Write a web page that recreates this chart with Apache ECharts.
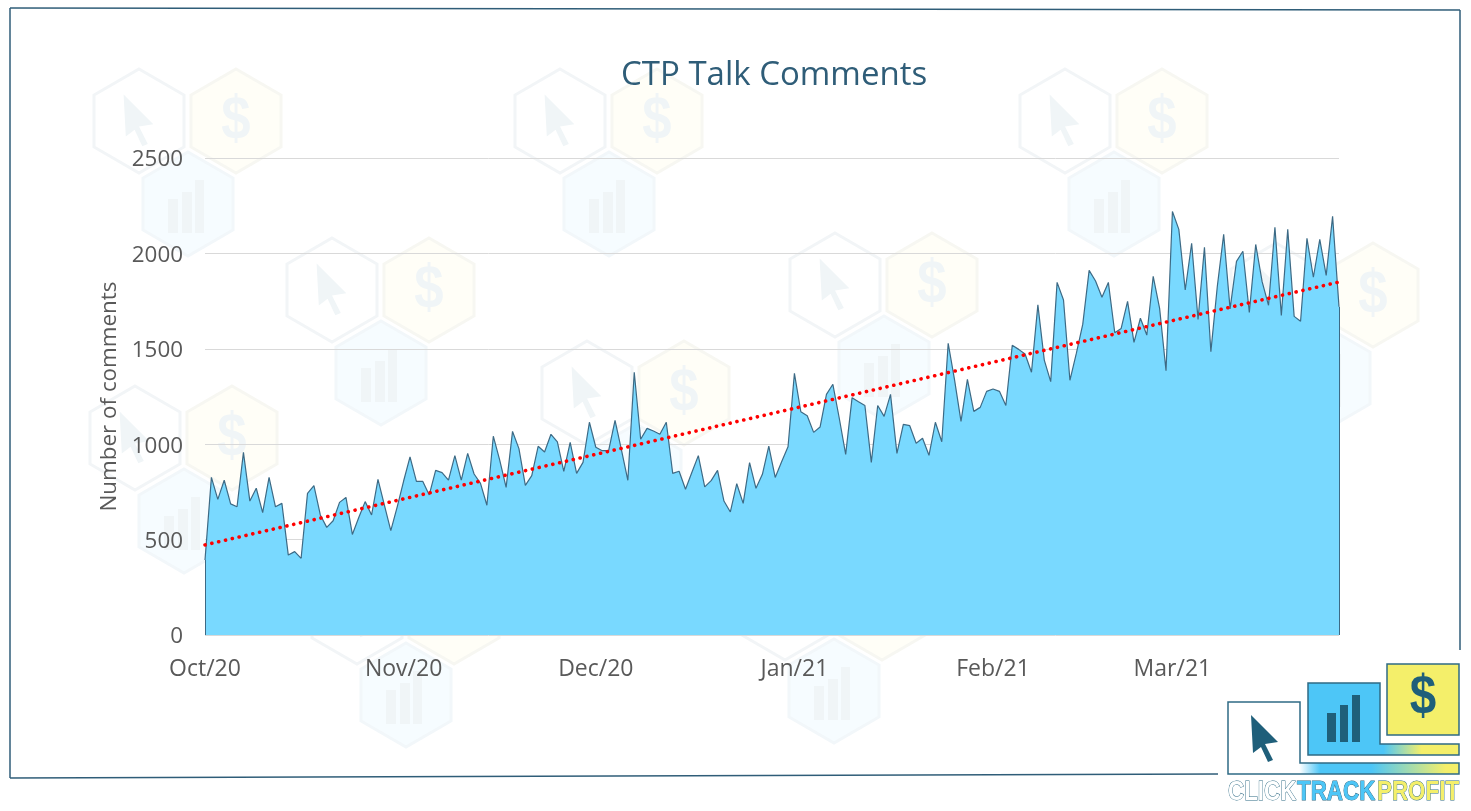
<!DOCTYPE html>
<html>
<head>
<meta charset="utf-8">
<style>
  html, body { margin: 0; padding: 0; background: #fff; }
  #chart { width: 1471px; height: 811px; }
</style>
<script src="https://cdn.jsdelivr.net/npm/echarts@6/dist/echarts.min.js"></script>
</head>
<body>
<div id="chart"></div>
<script>
// daily comments, 1 Oct 2020 to 27 Mar 2021
const comments = [
  393, 826, 711, 811, 687, 672, 957, 702, 769, 641, 826, 672, 690, 419, 437, 402, 742, 783, 629, 564,
  599, 695, 721, 527, 616, 699, 629, 816, 681, 547, 672, 807, 934, 805, 805, 734, 863, 851, 812, 940,
  812, 952, 844, 795, 680, 1042, 917, 774, 1067, 977, 784, 835, 989, 959, 1052, 1012, 858, 1010, 847, 905,
  1115, 984, 966, 966, 1125, 970, 811, 1377, 1026, 1083, 1069, 1052, 1115, 847, 858, 764, 853, 940, 776, 809,
  863, 702, 645, 793, 690, 903, 769, 842, 990, 826, 908, 987, 1371, 1170, 1149, 1062, 1090, 1261, 1314, 1136,
  947, 1244, 1223, 1203, 905, 1203, 1146, 1261, 952, 1104, 1097, 1005, 1031, 942, 1115, 1013, 1529, 1336, 1120, 1340,
  1172, 1193, 1277, 1289, 1277, 1203, 1518, 1497, 1473, 1377, 1730, 1441, 1328, 1848, 1756, 1335, 1476, 1628, 1911, 1855,
  1770, 1848, 1584, 1607, 1749, 1534, 1660, 1572, 1880, 1712, 1385, 2220, 2126, 1808, 2053, 1654, 2032, 1485, 1825, 2100,
  1709, 1958, 2011, 1691, 2047, 1852, 1728, 2137, 1675, 2126, 1670, 1644, 2079, 1875, 2074, 1885, 2194, 1720
];
const trendEnds = [472, 1850];
const monthNames = { '2020-10': 'Oct/20', '2020-11': 'Nov/20', '2020-12': 'Dec/20', '2021-01': 'Jan/21', '2021-02': 'Feb/21', '2021-03': 'Mar/21' };

const days = comments.map((v, i) => new Date(Date.UTC(2020, 9, 1 + i)).toISOString().slice(0, 10));
const lastDay = days[days.length - 1];

const inkDark = '#2f5d78';
const mark = '#1f5f7a';
const pale = '#f0f5f7';

// arrow shape used by the logo and the background pattern, around 0,0
const arrowPts = [[-14, -24], [13, 3], [0, 5], [8, 21], [3, 23], [-4, 8], [-12, 14]];

function hexPoints(cx, cy) {
  return [[cx, cy - 52], [cx + 45, cy - 26], [cx + 45, cy + 26], [cx, cy + 52], [cx - 45, cy + 26], [cx - 45, cy - 26]];
}

function poly(points, style) {
  return { type: 'polygon', z: -5, silent: true, shape: { points: points }, style: style };
}

function rect(x, y, w, h, style) {
  return { type: 'rect', z: -5, silent: true, shape: { x: x, y: y, width: w, height: h }, style: style };
}

function dollar(x, y, size, fill, z) {
  return {
    type: 'text', z: z, silent: true, x: x, y: y, scaleX: 0.85,
    style: { text: '$', x: 0, y: 0, fill: fill, font: 'bold ' + size + 'px "Liberation Sans"', align: 'center', verticalAlign: 'middle' }
  };
}

// one cluster of the three faint hexagons, x,y = centre of the arrow hexagon
function watermark(x, y) {
  const out = [];
  out.push(poly(hexPoints(x, y), { fill: '#fff', stroke: '#f2f5f7', lineWidth: 3 }));
  out.push(poly(arrowPts.map(p => [x + p[0] * 1.1, y + p[1] * 1.1]), { fill: pale }));
  out.push(poly(hexPoints(x + 97, y), { fill: '#fffef7', stroke: '#f7f7f2', lineWidth: 3 }));
  out.push(dollar(x + 97, y, 62, pale, -5));
  out.push(poly(hexPoints(x + 49, y + 83), { fill: '#f6fcff', stroke: '#f2f7fa', lineWidth: 3 }));
  out.push(rect(x + 29, y + 78, 10, 34, { fill: pale }));
  out.push(rect(x + 43, y + 71, 10, 41, { fill: pale }));
  out.push(rect(x + 56, y + 59, 9, 53, { fill: pale }));
  return out;
}

function frame() {
  const line = { stroke: inkDark, lineWidth: 1.5 };
  return [[[10, 8], [1460, 10]], [[10, 8], [10, 778]], [[10, 778], [1218, 774]], [[1460, 10], [1460, 650]]].map(p => ({
    type: 'line', z: -4, silent: true, shape: { x1: p[0][0], y1: p[0][1], x2: p[1][0], y2: p[1][1] }, style: line
  }));
}

function logoText(text, x, fill) {
  return {
    type: 'text', z: 5, silent: true, x: x, y: 792, scaleX: 0.8,
    style: { text: text, x: 0, y: 0, fill: fill, stroke: '#2f6b85', lineWidth: 1, font: 'bold 28px "Liberation Sans"', align: 'left', verticalAlign: 'middle' }
  };
}

function logo() {
  const border = '#2f6b85';
  const blue = '#4dc6f7';
  const yellow = '#f4ef6a';
  const gradA = new echarts.graphic.LinearGradient(0, 0, 1, 0, [
    { offset: 0.31, color: '#fff' }, { offset: 0.4, color: blue }, { offset: 0.62, color: blue }, { offset: 0.94, color: yellow }
  ]);
  const gradB = new echarts.graphic.LinearGradient(0, 0, 1, 0, [
    { offset: 0.5, color: blue }, { offset: 0.75, color: yellow }
  ]);
  const top = el => Object.assign(el, { z: 5 });
  return [
    rect(1220, 655, 251, 156, { fill: '#fff' }),
    poly([[1228, 702], [1300, 702], [1300, 763], [1459, 763], [1459, 774], [1228, 774]], { fill: gradA, stroke: border, lineWidth: 1.5 }),
    poly([[1308, 683], [1380, 683], [1380, 744], [1459, 744], [1459, 755], [1308, 755]], { fill: gradB, stroke: border, lineWidth: 1.5 }),
    rect(1387, 664, 72, 71, { fill: yellow, stroke: border, lineWidth: 1.5 }),
    rect(1327, 713, 9, 29, { fill: mark }),
    rect(1340, 705, 8, 37, { fill: mark }),
    rect(1352, 695, 8, 47, { fill: mark }),
    poly(arrowPts.map(p => [1265 + p[0], 739 + p[1]]), { fill: mark }),
    dollar(1423, 699, 56, mark, 5),
    logoText('CLICK', 1228, '#fff'),
    logoText('TRACK', 1297, blue),
    logoText('PROFIT', 1377, yellow)
  ].map(top);
}

const clusters = [
  [139, 121], [560, 121], [1065, 121], [332, 290], [835, 285], [587, 393],
  [135, 438], [1276, 295], [357, 612], [785, 608]
];

const chart = echarts.init(document.getElementById('chart'), null, { renderer: 'canvas' });
chart.setOption({
  animation: false,
  backgroundColor: '#fff',
  title: {
    text: 'CTP Talk Comments',
    left: 616,
    top: 54,
    textStyle: { color: inkDark, fontFamily: 'Open Sans', fontSize: 33, fontWeight: 'normal' }
  },
  grid: { left: 205, right: 132, top: 158, bottom: 176 },
  graphic: { elements: [].concat(...clusters.map(c => watermark(c[0], c[1])), frame(), logo()) },
  xAxis: {
    type: 'category',
    data: days,
    boundaryGap: false,
    axisLine: { show: false },
    axisTick: { show: false },
    splitLine: { show: false },
    axisLabel: {
      interval: (index, value) => value.endsWith('-01'),
      formatter: value => monthNames[value.slice(0, 7)],
      hideOverlap: false,
      color: '#595959',
      fontFamily: 'Open Sans',
      fontSize: 23,
      margin: 23
    }
  },
  yAxis: {
    type: 'value',
    min: 0,
    max: 2500,
    interval: 500,
    name: 'Number of comments',
    nameLocation: 'middle',
    nameGap: 74,
    nameRotate: 90,
    nameTextStyle: { color: '#595959', fontFamily: 'Open Sans', fontSize: 22.4 },
    axisLine: { show: false },
    axisTick: { show: false },
    splitLine: { lineStyle: { color: '#d9d9d9', width: 1 } },
    axisLabel: {
      formatter: value => '{n|' + value + '}',
      margin: 22,
      rich: {
        n: { color: '#595959', fontFamily: 'Open Sans', fontSize: 22.4, padding: [4, 0, 0, 0] }
      }
    }
  },
  series: [
    {
      type: 'line',
      data: comments,
      symbol: 'none',
      smooth: false,
      z: 2,
      lineStyle: { color: '#3d6a85', width: 1.2 },
      areaStyle: { color: '#79d9ff', opacity: 1 },
      markLine: {
        silent: true,
        symbol: 'none',
        label: { show: false },
        lineStyle: { color: '#3d6a85', width: 1, type: 'solid' },
        data: [
          [{ xAxis: days[0], yAxis: 0 }, { xAxis: days[0], yAxis: comments[0] }],
          [{ xAxis: lastDay, yAxis: 0 }, { xAxis: lastDay, yAxis: comments[comments.length - 1] }]
        ]
      }
    },
    {
      type: 'line',
      data: [[days[0], trendEnds[0]], [lastDay, trendEnds[1]]],
      symbol: 'none',
      z: 3,
      lineStyle: { color: '#ff0000', width: 3.6, type: [0.1, 6.9], cap: 'round' }
    }
  ]
});
</script>
</body>
</html>
